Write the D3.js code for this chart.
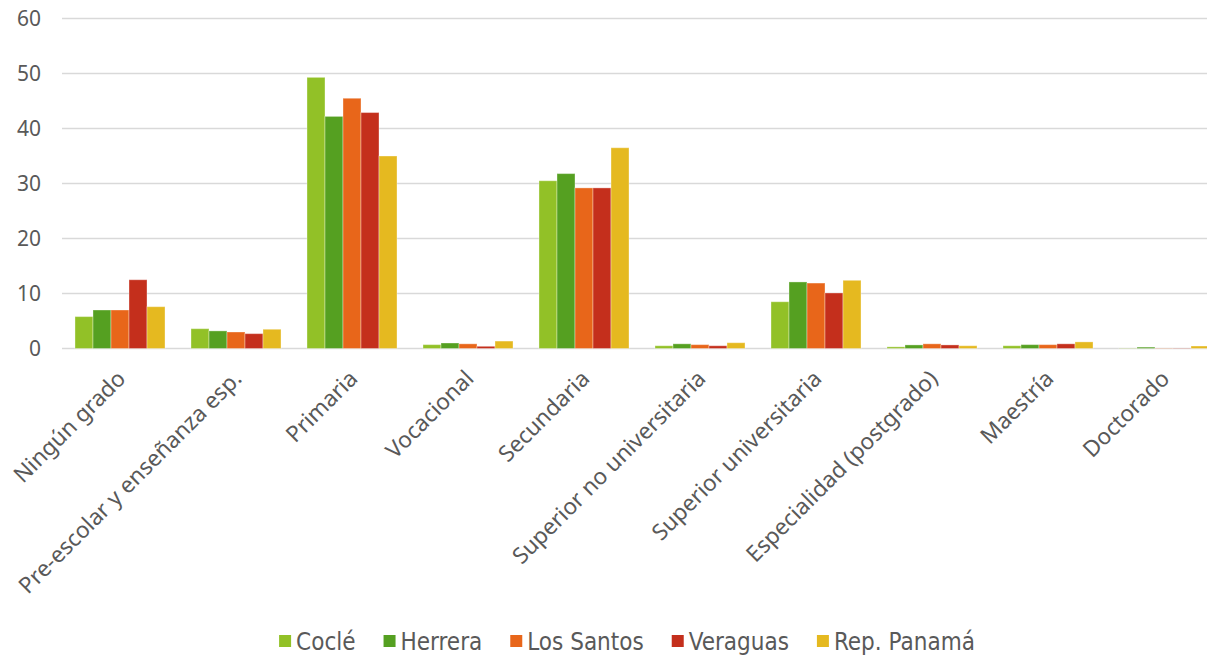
<!DOCTYPE html>
<html>
<head>
<meta charset="utf-8">
<script src="https://d3js.org/d3.v7.min.js"></script>
<style>
  body { margin: 0; background: #fff; }
  .tick text { fill: #595959; }
</style>
</head>
<body>
<script>
// data
var categories = ["Ningún grado", "Pre-escolar y enseñanza esp.", "Primaria", "Vocacional", "Secundaria",
  "Superior no universitaria", "Superior universitaria", "Especialidad (postgrado)", "Maestría", "Doctorado"];
var series = ["Coclé", "Herrera", "Los Santos", "Veraguas", "Rep. Panamá"];
var cocle     = [5.8, 3.6, 49.3, 0.7, 30.5, 0.5, 8.5, 0.3, 0.5, 0.05];
var herrera   = [7.0, 3.2, 42.2, 1.0, 31.8, 0.85, 12.1, 0.65, 0.7, 0.25];
var losSantos = [7.0, 3.0, 45.5, 0.85, 29.2, 0.7, 11.9, 0.85, 0.7, 0.05];
var veraguas  = [12.5, 2.7, 42.9, 0.4, 29.2, 0.5, 10.1, 0.65, 0.85, 0.05];
var panama    = [7.6, 3.5, 35.0, 1.35, 36.5, 1.05, 12.4, 0.5, 1.2, 0.45];
var yTicks = [0, 10, 20, 30, 40, 50, 60];
var colors = ["#92c127", "#55a021", "#e8661a", "#c42f1c", "#e5b920"];

var values = [cocle, herrera, losSantos, veraguas, panama];

var W = 1207, H = 655;

var svg = d3.select("body").append("svg")
  .attr("width", W).attr("height", H);

var y = d3.scaleLinear().domain([0, 60]).range([348.5, 18.5]);
// plot runs a bit past the right edge, like in the original
var x0 = d3.scaleBand().domain(categories).range([62, 1222]).paddingInner(0.224).paddingOuter(0.112);
var x1 = d3.scaleBand().domain(series).range([0, x0.bandwidth()]);
var color = d3.scaleOrdinal().domain(series).range(colors);

// gridlines
svg.append("g").selectAll("line")
  .data(yTicks)
  .enter().append("line")
  .attr("x1", 62).attr("x2", W)
  .attr("y1", function(d) { return y(d); })
  .attr("y2", function(d) { return y(d); })
  .attr("stroke", "#d9d9d9")
  .attr("stroke-width", 1.6);

// y axis labels
var yAxis = d3.axisLeft(y).tickValues(yTicks).tickSize(0).tickPadding(0);
svg.append("g")
  .attr("transform", "translate(41,0)")
  .call(yAxis)
  .call(function(g) { g.select(".domain").remove(); })
  .selectAll("text")
  .style("font-family", "'Noto Sans', 'Open Sans', sans-serif")
  .style("font-size", "21px")
  .attr("dy", "0.35em");

// bars
svg.append("g").selectAll("g")
  .data(categories)
  .enter().append("g")
  .attr("transform", function(d) { return "translate(" + x0(d) + ",0)"; })
  .selectAll("rect")
  .data(function(d, i) { return series.map(function(s, j) { return {key: s, value: values[j][i]}; }); })
  .enter().append("rect")
  .attr("x", function(d) { return x1(d.key); })
  .attr("width", x1.bandwidth())
  .attr("y", function(d) { return y(d.value); })
  .attr("height", function(d) { return y(0) - y(d.value); })
  .attr("fill", function(d) { return color(d.key); })
  .attr("stroke", "#ffffff")
  .attr("stroke-opacity", 0.35)
  .attr("stroke-width", 1);

// category labels
var xAxis = d3.axisBottom(x0).tickSize(0).tickPadding(0);
svg.append("g")
  .attr("transform", "translate(0,349)")
  .call(xAxis)
  .call(function(g) { g.select(".domain").remove(); })
  .selectAll("text")
  .style("font-family", "'Noto Sans', 'Open Sans', sans-serif")
  .style("font-size", "22.5px")
  .attr("text-anchor", "end")
  .attr("dy", null)
  .attr("y", 0)
  .attr("transform", "translate(7,31) rotate(-45)");

// legend
var legend = svg.append("g").attr("transform", "translate(0,641)");
var items = legend.selectAll("g")
  .data(series)
  .enter().append("g");
items.append("rect")
  .attr("x", 0).attr("y", -6)
  .attr("width", 12).attr("height", 12)
  .attr("fill", function(d) { return color(d); });
items.append("text")
  .attr("x", 17).attr("dy", "0.36em")
  .style("font-family", "'Liberation Sans Narrow', 'DejaVu Sans Condensed', Lato, sans-serif")
  .style("font-size", "24px")
  .attr("fill", "#595959")
  .text(function(d) { return d; });

var pos = 0;
var offsets = [];
items.each(function() {
  offsets.push(pos);
  var w = 17 + d3.select(this).select("text").node().getComputedTextLength();
  pos += w + 28;
});
var total = pos - 28;
var start = 627 - total / 2;
items.attr("transform", function(d, i) { return "translate(" + (start + offsets[i]) + ",0)"; });
</script>
</body>
</html>
